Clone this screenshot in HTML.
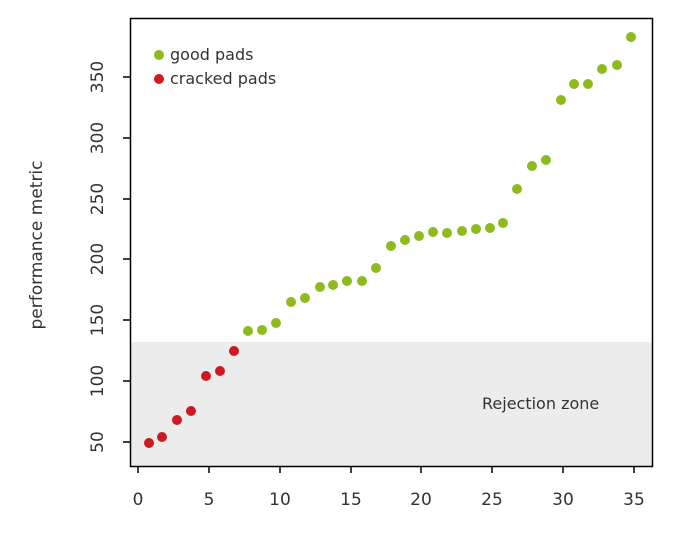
<!DOCTYPE html>
<html><head><meta charset="utf-8"><style>
body{margin:0;background:#fff}
svg{display:block;font-family:"DejaVu Sans","Liberation Sans",sans-serif;}
</style></head><body>
<svg width="691" height="537" viewBox="0 0 691 537">
<rect x="131" y="342" width="521" height="124" fill="#ececec"/>
<rect x="130.5" y="18.5" width="522" height="448" fill="none" stroke="#000" stroke-width="1.5"/>
<g stroke="#000" stroke-width="1.5">
<line x1="138" y1="466" x2="138" y2="473"/><line x1="209" y1="466" x2="209" y2="473"/>
<line x1="280" y1="466" x2="280" y2="473"/><line x1="351" y1="466" x2="351" y2="473"/>
<line x1="421" y1="466" x2="421" y2="473"/><line x1="492" y1="466" x2="492" y2="473"/>
<line x1="563" y1="466" x2="563" y2="473"/><line x1="634" y1="466" x2="634" y2="473"/>
<line x1="123" y1="442" x2="130" y2="442"/><line x1="123" y1="381" x2="130" y2="381"/>
<line x1="123" y1="320" x2="130" y2="320"/><line x1="123" y1="259" x2="130" y2="259"/>
<line x1="123" y1="199" x2="130" y2="199"/><line x1="123" y1="138" x2="130" y2="138"/>
<line x1="123" y1="77" x2="130" y2="77"/>
</g>
<g font-size="17" fill="#333" text-anchor="middle">
<text x="138" y="505">0</text><text x="209" y="505">5</text><text x="280" y="505">10</text>
<text x="351" y="505">15</text><text x="421" y="505">20</text><text x="492" y="505">25</text>
<text x="563" y="505">30</text><text x="634" y="505">35</text>
<text transform="translate(103,442) rotate(-90)">50</text>
<text transform="translate(103,381) rotate(-90)">100</text>
<text transform="translate(103,320) rotate(-90)">150</text>
<text transform="translate(103,259) rotate(-90)">200</text>
<text transform="translate(103,199) rotate(-90)">250</text>
<text transform="translate(103,138) rotate(-90)">300</text>
<text transform="translate(103,77) rotate(-90)">350</text>
<text transform="translate(42,245) rotate(-90)">performance metric</text>
</g>
<text x="482" y="409" font-size="16" fill="#333">Rejection zone</text>
<circle cx="159" cy="55" r="5" fill="#8fba1b"/><text x="170" y="60" font-size="16" fill="#333">good pads</text>
<circle cx="159" cy="79" r="5" fill="#cc1a1f"/><text x="170" y="84" font-size="16" fill="#333">cracked pads</text>
<g fill="#cc1a1f">
<circle cx="149" cy="443" r="5"/><circle cx="162" cy="437" r="5"/><circle cx="177" cy="420" r="5"/>
<circle cx="191" cy="411" r="5"/><circle cx="206" cy="376" r="5"/><circle cx="220" cy="371" r="5"/>
<circle cx="234" cy="351" r="5"/>
</g>
<g fill="#8fba1b">
<circle cx="248" cy="331" r="5"/><circle cx="262" cy="330" r="5"/><circle cx="276" cy="323" r="5"/>
<circle cx="291" cy="302" r="5"/><circle cx="305" cy="298" r="5"/><circle cx="320" cy="287" r="5"/>
<circle cx="333" cy="285" r="5"/><circle cx="347" cy="281" r="5"/><circle cx="362" cy="281" r="5"/>
<circle cx="376" cy="268" r="5"/><circle cx="391" cy="246" r="5"/><circle cx="405" cy="240" r="5"/>
<circle cx="419" cy="236" r="5"/><circle cx="433" cy="232" r="5"/><circle cx="447" cy="233" r="5"/>
<circle cx="462" cy="231" r="5"/><circle cx="476" cy="229" r="5"/><circle cx="490" cy="228" r="5"/>
<circle cx="503" cy="223" r="5"/><circle cx="517" cy="189" r="5"/><circle cx="532" cy="166" r="5"/>
<circle cx="546" cy="160" r="5"/><circle cx="561" cy="100" r="5"/><circle cx="574" cy="84" r="5"/>
<circle cx="588" cy="84" r="5"/><circle cx="602" cy="69" r="5"/><circle cx="617" cy="65" r="5"/>
<circle cx="631" cy="37" r="5"/>
</g>
</svg>
</body></html>
